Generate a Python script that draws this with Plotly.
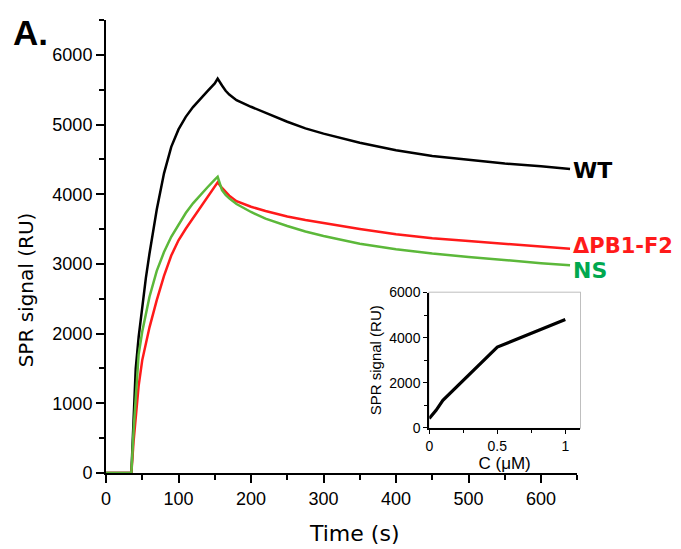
import plotly.graph_objects as go

# ---- main sensorgram data (time in s, signal in RU) ----
time_s = [0, 35, 38, 41, 45, 50, 55, 60, 70, 80, 90, 100, 110, 120, 130, 140, 150, 154,
          160, 165, 170, 180, 200, 220, 250, 275, 300, 350, 400, 450, 500, 550, 600, 640]
wt = [0, 0, 750, 1500, 1950, 2400, 2800, 3150, 3780, 4300, 4680, 4930, 5110, 5250, 5370,
      5480, 5590, 5660, 5560, 5485, 5430, 5350, 5255, 5168, 5040, 4945, 4870, 4738, 4630,
      4550, 4490, 4440, 4400, 4362]
dpb1f2 = [0, 0, 450, 850, 1250, 1620, 1870, 2090, 2480, 2830, 3120, 3340, 3505, 3660, 3810,
          3960, 4110, 4170, 4090, 4030, 3980, 3900, 3820, 3760, 3680, 3630, 3585, 3500, 3425,
          3370, 3330, 3290, 3250, 3216]
ns = [0, 0, 600, 1150, 1700, 2030, 2300, 2530, 2900, 3170, 3390, 3570, 3730, 3870, 3990,
      4100, 4210, 4250, 4060, 3990, 3940, 3860, 3745, 3650, 3545, 3465, 3400, 3290, 3212,
      3150, 3100, 3050, 3010, 2980]

# ---- inset: steady-state signal vs concentration ----
conc_uM = [0, 0.05, 0.1, 0.5, 1.0]
ss_signal = [420, 780, 1220, 3580, 4800]

series_names = ["WT", "\u0394PB1-F2", "NS"]
line_colors = ["#000000", "#ff1a1a", "#5cb83a"]
label_colors = ["#000000", "#ff1a1a", "#00a84f"]
label_y = [4339, 3259, 2901]
label_sizes = [22, 21, 22]

fig = go.Figure()
for name, ys, col in zip(series_names, [wt, dpb1f2, ns], line_colors):
    fig.add_trace(go.Scatter(x=time_s, y=ys, mode="lines", name=name,
                             line=dict(color=col, width=2.5), xaxis="x", yaxis="y"))

fig.add_trace(go.Scatter(x=conc_uM, y=ss_signal, mode="lines",
                         line=dict(color="#000000", width=3.2), xaxis="x2", yaxis="y2"))

for name, yv, col, sz in zip(series_names, label_y, label_colors, label_sizes):
    fig.add_annotation(x=640, y=yv, xref="x", yref="y", text="<b>%s</b>" % name,
                       showarrow=False, xanchor="left", xshift=1, yanchor="middle",
                       font=dict(family="DejaVu Sans", size=sz, color=col))

fig.add_annotation(x=-0.2004, y=0.9719, xref="paper", yref="paper", text="<b>A.</b>",
                   showarrow=False, xanchor="left", yanchor="middle",
                   font=dict(family="Liberation Sans", size=35, color="#000"))

# main axis titles (placed like the original, off-centre)
fig.add_annotation(x=-0.1688, y=0.4054, xref="paper", yref="paper", text="SPR signal (RU)",
                   textangle=-90, showarrow=False, xanchor="center", yanchor="middle",
                   font=dict(family="DejaVu Sans", size=20, color="#000"))
fig.add_annotation(x=0.5232, y=-0.1327, xref="paper", yref="paper", text="Time (s)",
                   showarrow=False, xanchor="center", yanchor="middle",
                   font=dict(family="DejaVu Sans", size=22, color="#000"))

# inset frame (grey top/right edges)
fig.add_shape(type="rect", xref="x2 domain", yref="y2 domain", x0=0, y0=0, x1=1, y1=1,
              line=dict(color="#aaaaaa", width=1.5), layer="below")

tickfont = dict(family="Liberation Sans", size=18, color="#000")
fig.update_layout(
    width=681, height=549,
    margin=dict(l=106, r=101, t=15, b=76),
    paper_bgcolor="white", plot_bgcolor="white",
    showlegend=False,
    xaxis=dict(domain=[0, 0.9943], range=[0, 650], dtick=100, tick0=0,
               showline=True, linecolor="#000", linewidth=2, showgrid=False, zeroline=False,
               ticks="outside", ticklen=8, tickwidth=2, tickcolor="#000", tickfont=tickfont,
               minor=dict(dtick=50, ticks="outside", ticklen=5, tickwidth=1.5, tickcolor="#000")),
    yaxis=dict(domain=[0, 1], range=[0, 6500], dtick=1000, tick0=0,
               showline=True, linecolor="#000", linewidth=2, showgrid=False, zeroline=False,
               ticks="outside", ticklen=8, tickwidth=2, tickcolor="#000", tickfont=tickfont,
               minor=dict(dtick=500, ticks="outside", ticklen=5, tickwidth=1.5, tickcolor="#000")),
    xaxis2=dict(domain=[0.682, 1.0], anchor="y2", range=[0, 1.108], tickvals=[0, 0.5, 1],
                ticktext=["0", "0.5", "1"],
                showline=True, linecolor="#000", linewidth=2, showgrid=False, zeroline=False,
                ticks="outside", ticklen=4, tickwidth=1.2, tickcolor="#000",
                tickfont=dict(family="Liberation Sans", size=14, color="#000"),
                minor=dict(tickvals=[0.25, 0.75], ticks="outside", ticklen=3, tickwidth=1, tickcolor="#000"),
                title=dict(text="C (\u03bcM)", font=dict(family="Liberation Sans", size=17, color="#000"),
                           standoff=2)),
    yaxis2=dict(domain=[0.0995, 0.3984], anchor="x2", range=[0, 6000], dtick=2000,
                showline=True, linecolor="#000", linewidth=2, showgrid=False, zeroline=False,
                ticks="outside", ticklen=4, tickwidth=1.2, tickcolor="#000",
                tickfont=dict(family="Liberation Sans", size=14, color="#000"),
                minor=dict(dtick=1000, ticks="outside", ticklen=3, tickwidth=1, tickcolor="#000"),
                title=dict(text="SPR signal (RU)", font=dict(family="Liberation Sans", size=15, color="#000"),
                           standoff=4)),
)

fig.write_html("out.html", config={"displayModeBar": False},
               post_script="document.body.style.margin='0px';")
